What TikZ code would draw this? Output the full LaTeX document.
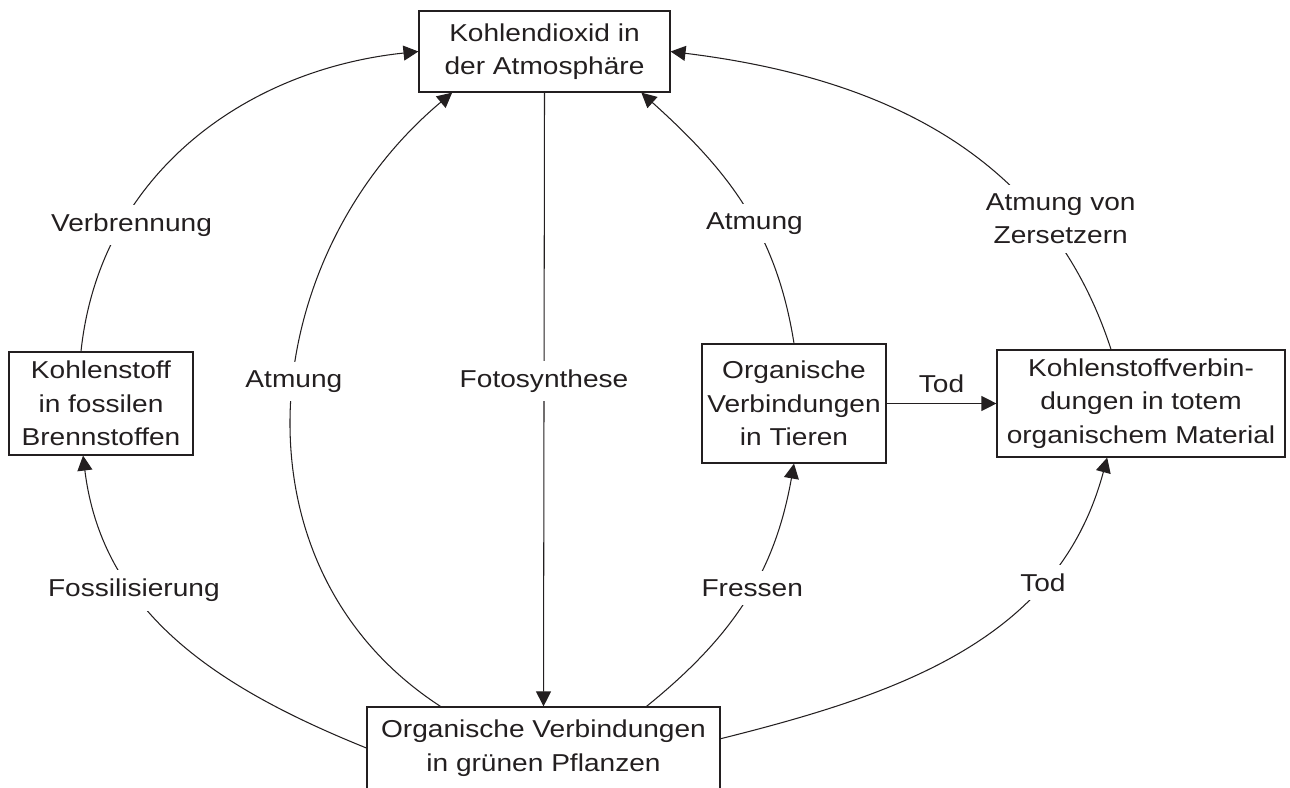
\documentclass[tikz,border=0pt]{standalone}
\usepackage{fontspec}
\setmainfont{Liberation Sans}[FakeStretch=1.15]
\usetikzlibrary{arrows.meta}
\definecolor{ink}{RGB}{35,31,32}

\begin{document}
\begin{tikzpicture}[x=0.02cm, y=-0.02cm,
        every node/.style={font=\fontsize{13.9}{19}\selectfont, text=ink},
        box/.style={draw=ink, line width=0.7pt, align=center, inner sep=2pt},
        flow/.style={draw=ink, line width=0.6pt, -{Triangle[length=8.5pt,width=8.5pt]}},
        lbl/.style={fill=white, inner sep=5pt, align=center}]
        \useasboundingbox (0,0) rectangle (1290,787);

        \node[box, minimum width=5.02cm, minimum height=1.62cm] at (544.5,51.5) (co2) {Kohlendioxid in\\der Atmosphäre};
        \node[box, minimum width=3.68cm, minimum height=2.06cm] at (101,403.5) (fossil) {Kohlenstoff\\in fossilen\\Brennstoffen};
        \node[box, minimum width=3.68cm, minimum height=2.38cm] at (794,403.5) (animals) {Organische\\Verbindungen\\in Tieren};
        \node[box, minimum width=5.76cm, minimum height=2.14cm] at (1141,403.5) (dead) {Kohlenstoffverbin-\\dungen in totem\\organischem Material};
        \node[box, minimum width=7.06cm, minimum height=1.64cm] at (543.5,748) (plants) {Organische Verbindungen\\in grünen Pflanzen};

        \draw[flow] (fossil.111) to[out=84, in=186] node[lbl, pos=0.27, xshift=0.2cm] {Verbrennung} (co2.west);
        \draw[flow] (plants.west) to[out=158, in=277] node[lbl, pos=0.66] {Fossilisierung} (fossil.251);
        \draw[flow] (plants.158) to[out=147, in=220, looseness=1.07] node[lbl, pos=0.54] {Atmung} (co2.204);
        \draw[flow] (co2.south) -- node[lbl, pos=0.47] {Fotosynthese} (plants.north);
        \draw[flow] (animals.north) to[out=99, in=318] node[lbl, pos=0.42] {Atmung} (co2.337);
        \draw[flow] (dead.119) to[out=108, in=353] node[lbl, pos=0.26, xshift=0.4cm] {Atmung von\\Zersetzern} (co2.east);
        \draw[flow] (animals.east) -- node[above, inner sep=6pt] {Tod} (dead.west);
        \draw[flow] (plants.22) to[out=39, in=260] node[lbl, pos=0.55] {Fressen} (animals.south);
        \draw[flow] (plants.3) to[out=14, in=255] node[lbl, pos=0.72] {Tod} (dead.238);

    \end{tikzpicture}
\end{document}
